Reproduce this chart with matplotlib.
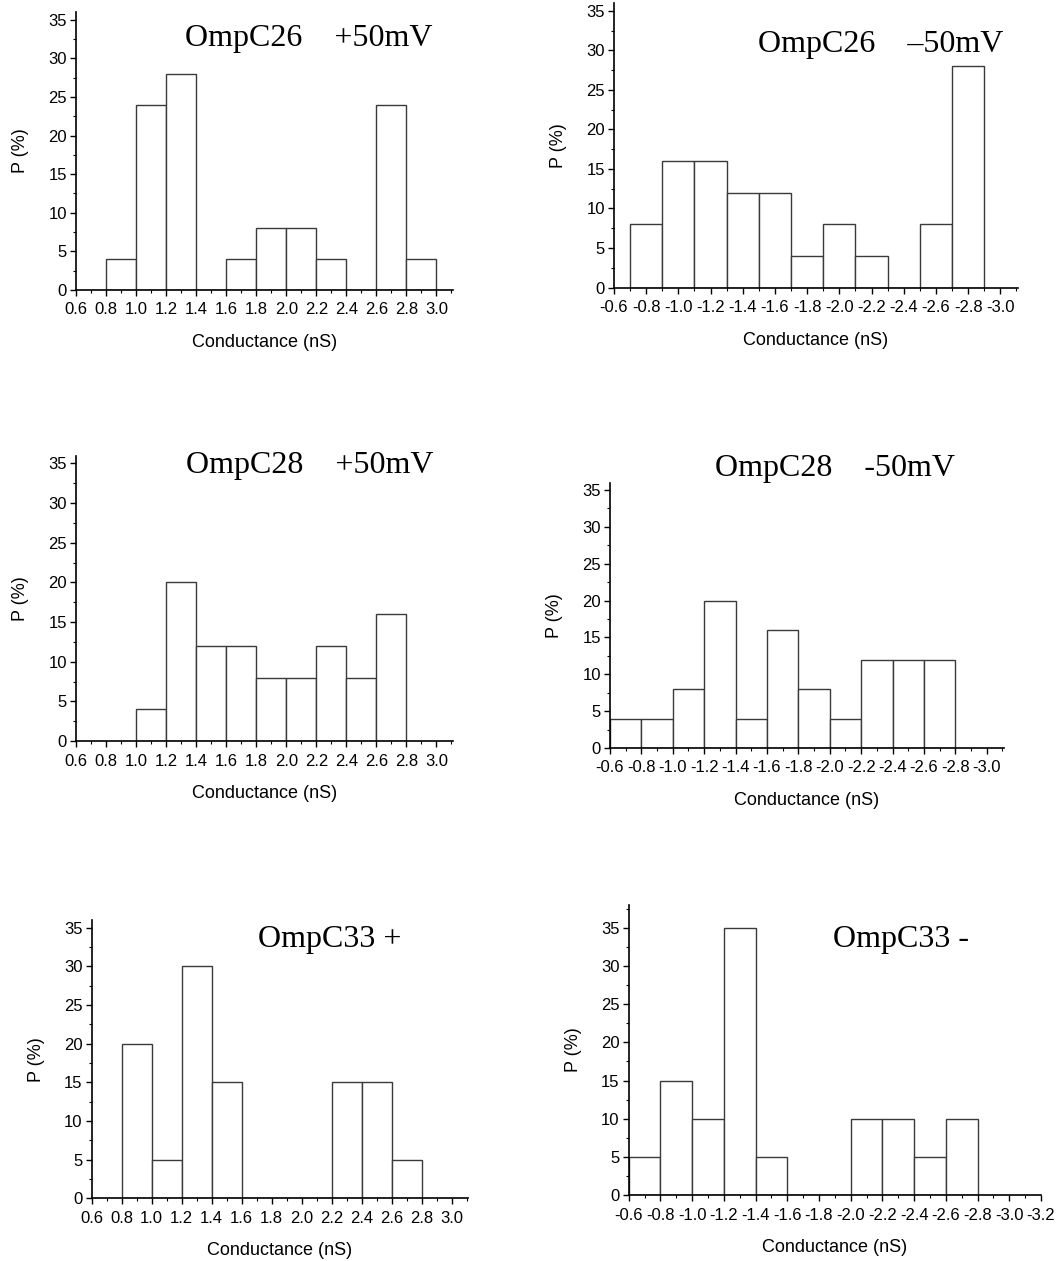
import matplotlib
matplotlib.use("Agg")
import matplotlib.pyplot as plt
from matplotlib.ticker import MultipleLocator, FormatStrFormatter

plt.rcParams["axes.unicode_minus"] = False
plt.rcParams["font.family"] = ["Liberation Sans", "DejaVu Sans"]

# Bin centres (nS) and probabilities (%) for each recording
c26_pos_bins = [0.9, 1.1, 1.3, 1.5, 1.7, 1.9, 2.1, 2.3, 2.5, 2.7, 2.9]
c26_pos_p = [4, 24, 28, 0, 4, 8, 8, 4, 0, 24, 4]

c26_neg_bins = [-0.8, -1.0, -1.2, -1.4, -1.6, -1.8, -2.0, -2.2, -2.4, -2.6, -2.8]
c26_neg_p = [8, 16, 16, 12, 12, 4, 8, 4, 0, 8, 28]

c28_pos_bins = [1.1, 1.3, 1.5, 1.7, 1.9, 2.1, 2.3, 2.5, 2.7]
c28_pos_p = [4, 20, 12, 12, 8, 8, 12, 8, 16]

c28_neg_bins = [-0.7, -0.9, -1.1, -1.3, -1.5, -1.7, -1.9, -2.1, -2.3, -2.5, -2.7]
c28_neg_p = [4, 4, 8, 20, 4, 16, 8, 4, 12, 12, 12]

c33_pos_bins = [0.9, 1.1, 1.3, 1.5, 1.7, 1.9, 2.1, 2.3, 2.5, 2.7]
c33_pos_p = [20, 5, 30, 15, 0, 0, 0, 15, 15, 5]

c33_neg_bins = [-0.7, -0.9, -1.1, -1.3, -1.5, -1.7, -1.9, -2.1, -2.3, -2.5, -2.7]
c33_neg_p = [5, 15, 10, 35, 5, 0, 0, 10, 10, 5, 10]

titles = ["OmpC26    +50mV", "OmpC26    \u201350mV",
          "OmpC28    +50mV", "OmpC28    -50mV",
          "OmpC33 +", "OmpC33 -"]

W, H = 1061, 1261
fig = plt.figure(figsize=(W / 100, H / 100), dpi=100)


def px_axes(left, right, bottom, top):
    return fig.add_axes([left / W, 1 - bottom / H, (right - left) / W, (bottom - top) / H])


panels = [
    # bins, values, xlim, ylim, axes box (px: left, right, x-axis y, top), title anchor (px)
    (c26_pos_bins, c26_pos_p, (0.6, 3.11), 36, (76, 453, 290, 12), (185, 46)),
    (c26_neg_bins, c26_neg_p, (-0.6, -3.11), 36, (614, 1018, 287.5, 3), (758, 52)),
    (c28_pos_bins, c28_pos_p, (0.6, 3.11), 36, (76, 453, 741, 455.5), (186, 473)),
    (c28_neg_bins, c28_neg_p, (-0.6, -3.11), 36, (610, 1004, 748, 482.7), (715, 476)),
    (c33_pos_bins, c33_pos_p, (0.6, 3.11), 36, (91.7, 468.3, 1198.3, 920), (258, 947)),
    (c33_neg_bins, c33_neg_p, (-0.6, -3.2), 38, (628.7, 1041, 1195, 905), (833, 947)),
]

for (bins, vals, xlim, ytop, box, tpos), title in zip(panels, titles):
    ax = px_axes(box[0], box[1], box[2], box[3])
    ax.bar(bins, vals, width=0.2, align="center", facecolor="white",
           edgecolor="#3a3a3a", linewidth=1.0, zorder=2)
    ax.set_xlim(*xlim)
    ax.set_ylim(0, ytop)
    for s in ("top", "right"):
        ax.spines[s].set_visible(False)
    for s in ("left", "bottom"):
        ax.spines[s].set_linewidth(1.2)
        ax.spines[s].set_color("black")
        ax.spines[s].set_zorder(3)
    ax.xaxis.set_major_locator(MultipleLocator(0.2))
    ax.xaxis.set_minor_locator(MultipleLocator(0.1))
    ax.xaxis.set_major_formatter(FormatStrFormatter("%.1f"))
    ax.yaxis.set_major_locator(MultipleLocator(5))
    ax.yaxis.set_minor_locator(MultipleLocator(2.5))
    ax.tick_params(which="major", direction="out", length=4, width=1.0,
                   labelsize=12, colors="black")
    ax.tick_params(axis="x", which="major", pad=5)
    ax.tick_params(axis="y", which="major", pad=2.5)
    ax.tick_params(which="minor", direction="out", length=2, width=0.8)
    ax.set_xlabel("Conductance (nS)", fontsize=13, labelpad=12)
    ax.set_ylabel("P (%)", fontsize=13, labelpad=14)
    fig.text(tpos[0] / W, 1 - tpos[1] / H, title, family=["Liberation Serif", "DejaVu Serif"],
             fontsize=23, ha="left", va="baseline")

fig.savefig("out.png", dpi=100, facecolor="white")
